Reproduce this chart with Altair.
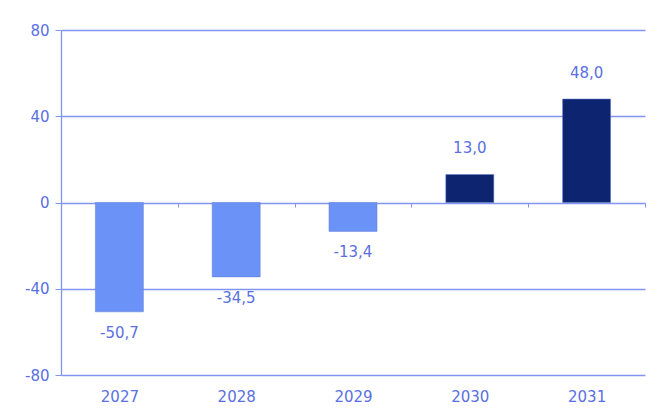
import altair as alt
import pandas as pd

years = ["2027", "2028", "2029", "2030", "2031"]
values = [-50.7, -34.5, -13.4, 13.0, 48.0]
labels = ["-50,7", "-34,5", "-13,4", "13,0", "48,0"]

df = pd.DataFrame({"year": years, "value": values, "label": labels})
df["sign"] = ["neg" if v < 0 else "pos" for v in values]

FONT = "DejaVu Sans"
TXT = "#5a70e2"
GRID = "#8294f2"

x = alt.X("year:N", sort=years, title=None,
          scale=alt.Scale(paddingInner=0, paddingOuter=0),
          axis=alt.Axis(labelAngle=0, domain=False, ticks=True, tickBand="extent",
                        tickSize=4, tickColor=GRID, offset=-172, labelPadding=182,
                        labelFont=FONT, labelFontSize=15, labelColor=TXT))
y = alt.Y("value:Q", title=None,
          scale=alt.Scale(domain=[-80, 80], nice=False, zero=True),
          axis=alt.Axis(values=[-80, -40, 0, 40, 80], grid=True, gridColor=GRID,
                        gridWidth=1.3, domain=True, domainColor=GRID, domainWidth=1.3,
                        tickColor=GRID, tickSize=6, labelPadding=6,
                        labelExpr="datum.value < 0 ? '-' + abs(datum.value) : '' + datum.value",
                        labelFont=FONT, labelFontSize=15, labelColor=TXT))

color = alt.Color("sign:N", legend=None,
                  scale=alt.Scale(domain=["neg", "pos"], range=["#6b93f7", "#0d2570"]))

bars = alt.Chart(df).mark_bar(size=48, stroke="#5f7ad0", strokeWidth=0.5).encode(
    x=x, y=y, y2=alt.datum(0), color=color)

neg_text = alt.Chart(df).transform_filter("datum.value < 0").mark_text(
    font=FONT, fontSize=15, color=TXT, baseline="top", dy=14).encode(
    x=alt.X("year:N", sort=years), y="value:Q", text="label:N")

pos_text = alt.Chart(df).transform_filter("datum.value >= 0").mark_text(
    font=FONT, fontSize=15, color=TXT, baseline="bottom", dy=-18).encode(
    x=alt.X("year:N", sort=years), y="value:Q", text="label:N")

chart = alt.layer(bars, neg_text, pos_text).properties(
    width=584, height=345,
    autosize=alt.AutoSizeParams(type="none"),
    padding={"left": 53, "top": 22, "right": 6, "bottom": 38},
    background="#ffffff",
).configure_view(stroke=None)

chart.save("out.html", embed_options={"renderer": "svg", "actions": False})
